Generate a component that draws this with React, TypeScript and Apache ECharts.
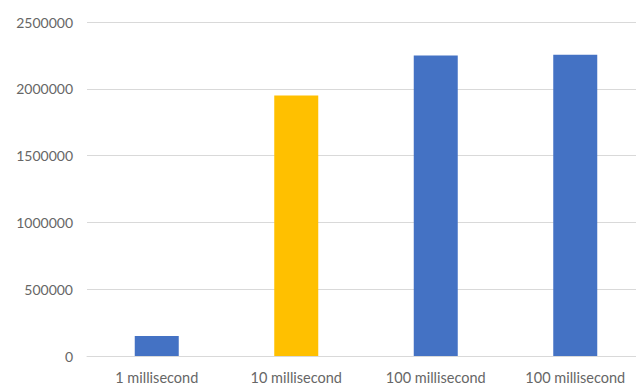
import React, { useEffect, useRef } from "react";
import * as echarts from "echarts";

const categories = ["1 millisecond", "10 millisecond", "100 millisecond", "100 millisecond"];
const values = [150000, 1950000, 2250000, 2255000];
const barColors = ["#4472C4", "#FFC000", "#4472C4", "#4472C4"];
const yTicks = { min: 0, max: 2500000, interval: 500000 };

export default function App() {
  const ref = useRef<HTMLDivElement>(null);

  useEffect(() => {
    if (!ref.current) return;
    const chart = echarts.init(ref.current, undefined, { renderer: "svg" });
    chart.setOption({
      animation: false,
      backgroundColor: "#ffffff",
      grid: { left: 87, right: 0, top: 22, bottom: 31, containLabel: false },
      xAxis: {
        type: "category",
        data: categories,
        axisLine: { show: true, lineStyle: { color: "#d9d9d9", width: 1 } },
        axisTick: { show: false },
        axisLabel: {
          color: "#666666",
          fontFamily: "Lato",
          fontSize: 14.5,
          margin: 14,
          interval: 0,
        },
      },
      yAxis: {
        type: "value",
        min: yTicks.min,
        max: yTicks.max,
        interval: yTicks.interval,
        axisLine: { show: false },
        axisTick: { show: false },
        splitLine: { lineStyle: { color: "#d9d9d9", width: 1 } },
        axisLabel: {
          color: "#666666",
          fontFamily: "Lato",
          fontSize: 14,
          margin: 14,
          formatter: (v: number) => String(v),
        },
      },
      series: [
        {
          type: "bar",
          barWidth: 44,
          data: values.map((v, i) => ({ value: v, itemStyle: { color: barColors[i] } })),
        },
      ],
    });
    return () => chart.dispose();
  }, []);

  return (
    <div style={{ position: "fixed", left: 0, top: 0, width: 636, height: 387, overflow: "hidden", background: "#fff" }}>
      <div ref={ref} style={{ width: 645, height: 387 }} />
    </div>
  );
}
